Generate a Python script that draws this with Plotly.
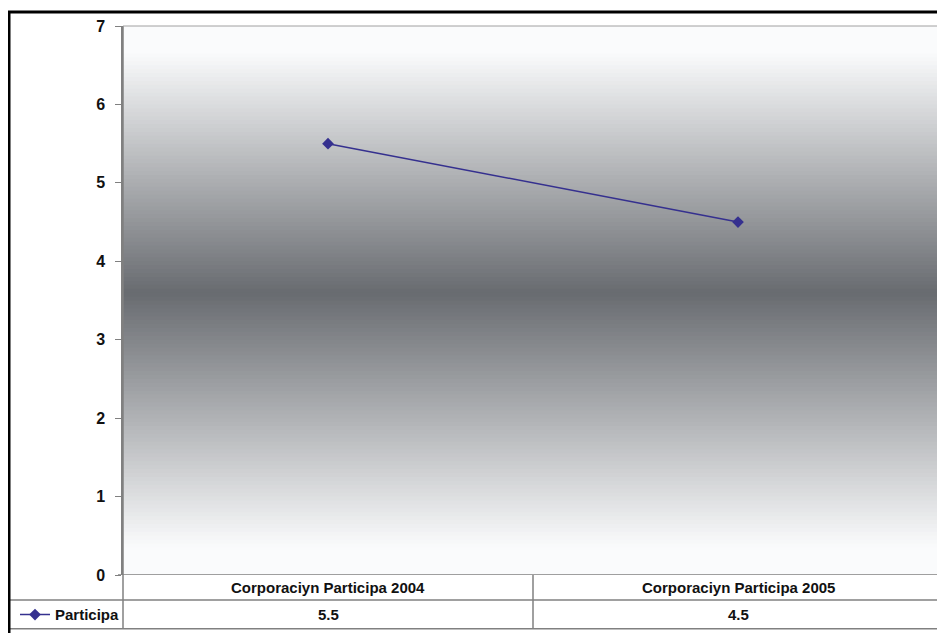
import plotly.graph_objects as go

categories = ["Corporaciyn Participa 2004", "Corporaciyn Participa 2005"]
series_name = "Participa"
values = [5.5, 4.5]
value_labels = ["5.5", "4.5"]
y_ticks = [0, 1, 2, 3, 4, 5, 6, 7]

OFF = 8  # page body margin
W, H = 945 - OFF, 633 - OFF
ML, MR, MT, MB = 123 - OFF, 2, 26 - OFF, 56
PW = W - ML - MR
PH = H - MT - MB


def px_x(p):  # page pixel -> paper x
    return (p - OFF - ML) / PW


def px_y(p):  # page pixel -> paper y
    return (H - MB - (p - OFF)) / PH


FONT = "Liberation Sans, Arial, sans-serif"
LINE_COL = "#35308f"
TXT = "#111111"

fig = go.Figure()
fig.add_trace(go.Scatter(
    x=categories, y=values, name=series_name, mode="lines+markers",
    line=dict(color=LINE_COL, width=1.5),
    marker=dict(symbol="diamond", size=9, color=LINE_COL),
))

shapes = []
# vertical gradient background: white at edges, dark grey in middle
n = 140
ymax = 7.0
centre = 3.6
c_edge = (250, 251, 252)
c_mid = (104, 107, 112)
for i in range(n):
    y0 = ymax * i / n
    y1 = ymax * (i + 1) / n
    ym = (y0 + y1) / 2
    span = (ymax - centre) if ym > centre else centre
    t = min(1.0, abs(ym - centre) / (span * 0.9))
    col = tuple(int(round(c_mid[k] + (c_edge[k] - c_mid[k]) * t)) for k in range(3))
    shapes.append(dict(type="rect", xref="paper", yref="y", x0=0, x1=1, y0=y0, y1=min(y1 + 0.04, ymax),
                       fillcolor="rgb(%d,%d,%d)" % col, line=dict(width=0), layer="below"))

GRID = "#808080"
row1 = px_y(602)
row2 = px_y(631)
shapes += [
    dict(type="line", xref="paper", yref="paper", x0=px_x(9), x1=1.01, y0=row1, y1=row1, line=dict(color=GRID, width=1.5)),
    dict(type="line", xref="paper", yref="paper", x0=px_x(9), x1=1.01, y0=row2, y1=row2, line=dict(color=GRID, width=1.5)),
    dict(type="line", xref="paper", yref="paper", x0=0, x1=0, y0=row2, y1=1, line=dict(color=GRID, width=1.5)),
    dict(type="line", xref="paper", yref="paper", x0=0.5, x1=0.5, y0=row2, y1=0, line=dict(color=GRID, width=1.5)),
    dict(type="line", xref="paper", yref="paper", x0=0, x1=1.01, y0=1, y1=1, line=dict(color="#a0a0a0", width=1)),
    # outer chart border
    dict(type="line", xref="paper", yref="paper", x0=px_x(9), x1=px_x(9), y0=px_y(640), y1=px_y(12), line=dict(color="black", width=3)),
    dict(type="line", xref="paper", yref="paper", x0=px_x(8), x1=1.01, y0=px_y(12), y1=px_y(12), line=dict(color="black", width=3)),
]

annotations = []
for c in categories:
    annotations.append(dict(x=c, y=px_y(590), xref="x", yref="paper", text="<b>%s</b>" % c, showarrow=False,
                            font=dict(family=FONT, size=15, color=TXT), xanchor="center", yanchor="middle"))
for c, v in zip(categories, value_labels):
    annotations.append(dict(x=c, y=px_y(617), xref="x", yref="paper", text="<b>%s</b>" % v, showarrow=False,
                            font=dict(family=FONT, size=15, color=TXT), xanchor="center", yanchor="middle"))

fig.update_layout(
    width=W, height=H,
    margin=dict(l=ML, r=MR, t=MT, b=MB),
    paper_bgcolor="white", plot_bgcolor="white",
    showlegend=True,
    legend=dict(x=px_x(15), y=px_y(617), xanchor="left", yanchor="middle",
                bgcolor="rgba(0,0,0,0)", font=dict(family=FONT, size=15, color=TXT, weight="bold"),
                itemwidth=30),
    xaxis=dict(showticklabels=False, showgrid=False, zeroline=False, showline=False,
               ticks="", range=[-0.5, 1.5], fixedrange=True),
    yaxis=dict(range=[0, 7], tickvals=y_ticks, showgrid=False, zeroline=False,
               showline=True, linecolor=GRID, linewidth=1.5, ticks="outside", ticklen=6,
               tickcolor=GRID, tickfont=dict(family=FONT, size=16, color=TXT, weight="bold"),
               ticklabelstandoff=7),
    shapes=shapes,
    annotations=annotations,
)
fig.add_shape(type="line", xref="paper", yref="y", x0=px_x(118), x1=1.01, y0=0, y1=0,
              line=dict(color=GRID, width=1.5))

fig.write_html("out.html")
